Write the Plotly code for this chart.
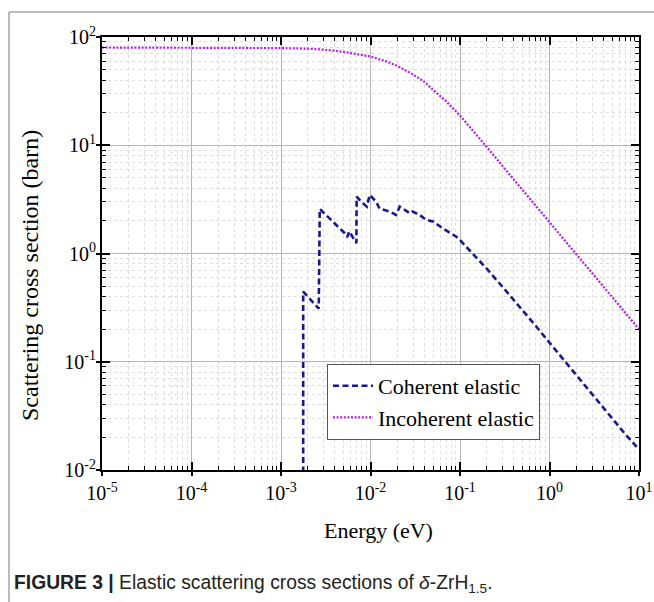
import plotly.graph_objects as go

# ---- data ----
coh_E = [1.77e-3, 1.77e-3, 2.64e-3, 2.71e-3, 3.5e-3, 5.15e-3, 5.5e-3, 5.8e-3, 6.95e-3, 7.0e-3,
         7.9e-3, 9.1e-3, 9.8e-3, 1.16e-2, 1.26e-2, 1.64e-2, 1.93e-2, 2.12e-2, 2.41e-2, 2.75e-2,
         2.94e-2, 3.55e-2, 4.2e-2, 5.0e-2, 6.4e-2, 9.1e-2, 0.1, 0.2, 0.3, 0.5, 0.7, 1.0, 2.0,
         3.0, 5.0, 7.0, 10.0]
coh_S = [0.0095, 0.445, 0.31, 2.58, 2.1, 1.54, 1.42, 1.6, 1.245, 3.35,
         3.0, 2.71, 3.48, 3.0, 2.6, 2.44, 2.27, 2.71, 2.53, 2.35,
         2.44, 2.27, 2.04, 1.98, 1.71, 1.43, 1.33, 0.72, 0.49, 0.30, 0.215, 0.15, 0.075,
         0.05, 0.03, 0.0215, 0.0155]

inc_E = [1e-5, 1e-4, 1e-3, 2e-3, 3e-3, 5e-3, 7e-3, 1e-2, 1.5e-2, 2e-2, 3e-2, 4e-2, 5e-2,
         7e-2, 0.1, 0.15, 0.2, 0.3, 0.5, 0.7, 1.0, 2.0, 3.0, 5.0, 7.0, 10.0]
inc_S = [80, 80, 79, 78, 76.5, 73, 70, 66, 59.5, 54, 45, 38.5, 32.5,
         25.5, 18.8, 12.8, 9.6, 6.4, 3.85, 2.75, 1.95, 0.98, 0.66, 0.39, 0.28, 0.2]

x_tickvals = [1e-5, 1e-4, 1e-3, 1e-2, 1e-1, 1e0, 1e1]
x_ticktext = ["10<sup>-5</sup>", "10<sup>-4</sup>", "10<sup>-3</sup>", "10<sup>-2</sup>",
              "10<sup>-1</sup>", "10<sup>0</sup>", "10<sup>1</sup>"]
y_tickvals = [1e-2, 1e-1, 1e0, 1e1, 1e2]
y_ticktext = ["10<sup>-2</sup>", "10<sup>-1</sup>", "10<sup>0</sup>", "10<sup>1</sup>", "10<sup>2</sup>"]
minor_mult = [2, 3, 4, 5, 6, 7, 8, 9]

x_minor = [m * d for d in x_tickvals[:-1] for m in minor_mult]
y_minor = [m * d for d in y_tickvals[:-1] for m in minor_mult]

serif = "Liberation Serif"
W, H = 654, 602
L, R, T, B = 102, 15, 37, 132
pw, ph = W - L - R, H - T - B

fig = go.Figure()
fig.add_trace(go.Scatter(x=coh_E, y=coh_S, mode="lines", name="Coherent elastic",
                         line=dict(color="#16188c", width=2.6, dash="6px,3.5px")))
fig.add_trace(go.Scatter(x=inc_E, y=inc_S, mode="lines", name="Incoherent elastic",
                         line=dict(color="#b61cf4", width=2.2, dash="2px,1.6px")))
# invisible trace for the overlay axes (outer half of crossing major ticks)
fig.add_trace(go.Scatter(x=[1e-5], y=[1e-2], xaxis="x2", yaxis="y2", mode="markers",
                         marker=dict(opacity=0), showlegend=False, hoverinfo="skip"))


def axis_common(minor_vals):
    return dict(type="log", showline=True, linecolor="black", linewidth=2, automargin=False,
                mirror="ticks", ticks="inside", ticklen=8, tickwidth=1.5, tickcolor="black",
                showgrid=True, gridcolor="#b4b4b4", gridwidth=1, zeroline=False,
                tickfont=dict(family=serif, size=20, color="black"),
                minor=dict(tickmode="array", tickvals=minor_vals, ticks="inside", ticklen=4,
                           tickwidth=1, tickcolor="black",
                           showgrid=True, gridcolor="#dedede", griddash="dot", gridwidth=1))


fig.update_layout(
    width=W, height=H,
    margin=dict(l=L, r=R, t=T, b=B),
    paper_bgcolor="white", plot_bgcolor="white",
    xaxis=dict(range=[-5, 1], tickvals=x_tickvals, ticktext=x_ticktext, ticklabelstandoff=4,
               **axis_common(x_minor)),
    yaxis=dict(range=[-2, 2], tickvals=y_tickvals, ticktext=y_ticktext,
               **axis_common(y_minor)),
    xaxis2=dict(type="log", range=[-5, 1], overlaying="x", anchor="y2", side="bottom",
                tickvals=x_tickvals, showticklabels=False, ticks="outside", ticklen=5,
                tickwidth=1.5, tickcolor="black", showgrid=False, showline=False, zeroline=False),
    yaxis2=dict(type="log", range=[-2, 2], overlaying="y", anchor="x2", side="left",
                tickvals=y_tickvals, showticklabels=False, ticks="outside", ticklen=5,
                tickwidth=1.5, tickcolor="black", showgrid=False, showline=False, zeroline=False),
    legend=dict(x=(327 - L) / pw, y=(H - B - 364) / ph,
                xanchor="left", yanchor="top",
                bgcolor="white", bordercolor="#555555", borderwidth=1,
                font=dict(family=serif, size=22, color="black"),
                tracegroupgap=0, itemwidth=40),
    showlegend=True,
)


# pixel positions converted to paper coords
def px(xp):
    return (xp - L) / pw


def py(yp):
    return (H - B - yp) / ph


# figure frame lines (top and left)
fig.add_shape(type="line", xref="paper", yref="paper", x0=px(9), x1=px(654), y0=py(12), y1=py(12),
              line=dict(color="#777777", width=1))
fig.add_shape(type="line", xref="paper", yref="paper", x0=px(9), x1=px(9), y0=py(12), y1=py(602),
              line=dict(color="#777777", width=1))

# axis titles
fig.add_annotation(xref="paper", yref="paper", x=px(378), y=py(530), xanchor="center", yanchor="middle",
                   showarrow=False, text="Energy (eV)",
                   font=dict(family=serif, size=22, color="black"))
fig.add_annotation(xref="paper", yref="paper", x=px(30), y=py(276), xanchor="center", yanchor="middle",
                   showarrow=False, text="Scattering cross section (barn)", textangle=-90,
                   font=dict(family=serif, size=24, color="black"))

# caption
fig.add_annotation(xref="paper", yref="paper", x=px(12), y=py(584), xanchor="left", yanchor="middle",
                   showarrow=False,
                   text="<b>FIGURE 3 |</b> Elastic scattering cross sections of <i>δ</i>-ZrH<sub>1.5</sub>.",
                   font=dict(family="Liberation Sans", size=19.3, color="#222222"))

fig.write_html("out.html", config={"displayModeBar": False},
               post_script="document.body.style.margin='0';")
